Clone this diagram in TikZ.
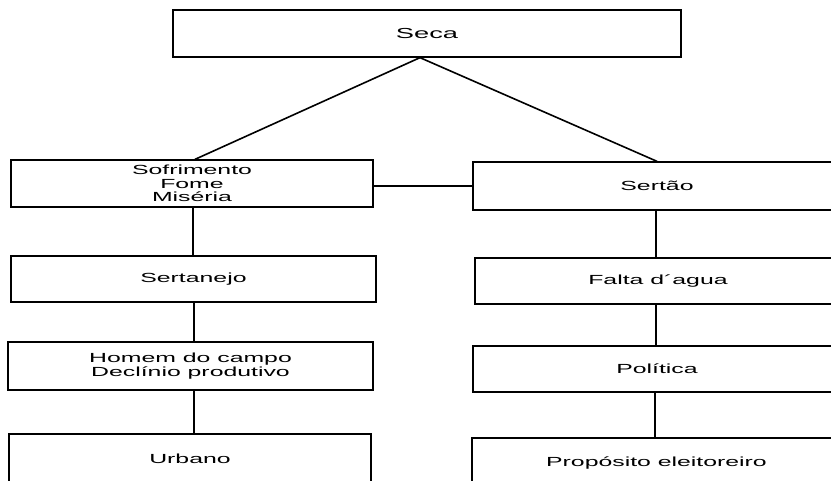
\documentclass[tikz,border=0pt]{standalone}
\usepackage{fontspec}
\setmainfont{Liberation Sans}[FakeStretch=1.88]
\usetikzlibrary{calc}
\begin{document}
\begin{tikzpicture}[x=1pt,y=-1pt,
  box/.style={draw, line width=1.3pt, rectangle, inner sep=0pt, align=center,
    font=\fontsize{13.2}{13.4}\selectfont},
  link/.style={line width=1.3pt},
  diag/.style={line width=1.6pt}]
\useasboundingbox (0,0) rectangle (831,481);
\clip (0,0) rectangle (831,481);
\node[box, minimum width=508pt, minimum height=47pt, font=\fontsize{14.5}{16}\selectfont] (seca) at (427,33.5) {Seca};
% left column
\node[box, minimum width=362pt, minimum height=47pt] (sofr) at (192,183.5) {Sofrimento\\Fome\\Miséria};
\node[box, minimum width=365pt, minimum height=46pt] (sertanejo) at (193.5,279) {Sertanejo};
\node[box, minimum width=365pt, minimum height=48pt] (homem) at (190.5,366) {Homem do campo\\Declínio produtivo};
\node[box, minimum width=362pt, minimum height=50pt] (urbano) at (190,459) {Urbano};
% right column
\node[box, minimum width=368pt, minimum height=48pt] (sertao) at (657,186) {Sertão};
\node[box, minimum width=366pt, minimum height=46pt] (falta) at (658,281) {Falta d´agua};
\node[box, minimum width=368pt, minimum height=46pt] (politica) at (657,369) {Política};
\node[box, minimum width=369pt, minimum height=50pt] (proposito) at (656.5,463) {Propósito eleitoreiro};
% connectors
\draw[diag] ([xshift=-7pt]seca.south) -- ([xshift=3pt]sofr.north);
\draw[diag] ([xshift=-7pt]seca.south) -- (sertao.north);
\draw[link] (sertao.west) -- (sertao.west -| sofr.east);
\draw[link] ([xshift=1pt]sofr.south) -- ([xshift=1pt]sofr.south |- sertanejo.north);
\draw[link] ([xshift=0.5pt]sertanejo.south) -- ([xshift=0.5pt]sertanejo.south |- homem.north);
\draw[link] ([xshift=3.5pt]homem.south) -- ([xshift=3.5pt]homem.south |- urbano.north);
\draw[link] ([xshift=-1pt]sertao.south) -- ([xshift=-1pt]sertao.south |- falta.north);
\draw[link] ([xshift=-2pt]falta.south) -- ([xshift=-2pt]falta.south |- politica.north);
\draw[link] ([xshift=-2pt]politica.south) -- ([xshift=-2pt]politica.south |- proposito.north);
\end{tikzpicture}
\end{document}
